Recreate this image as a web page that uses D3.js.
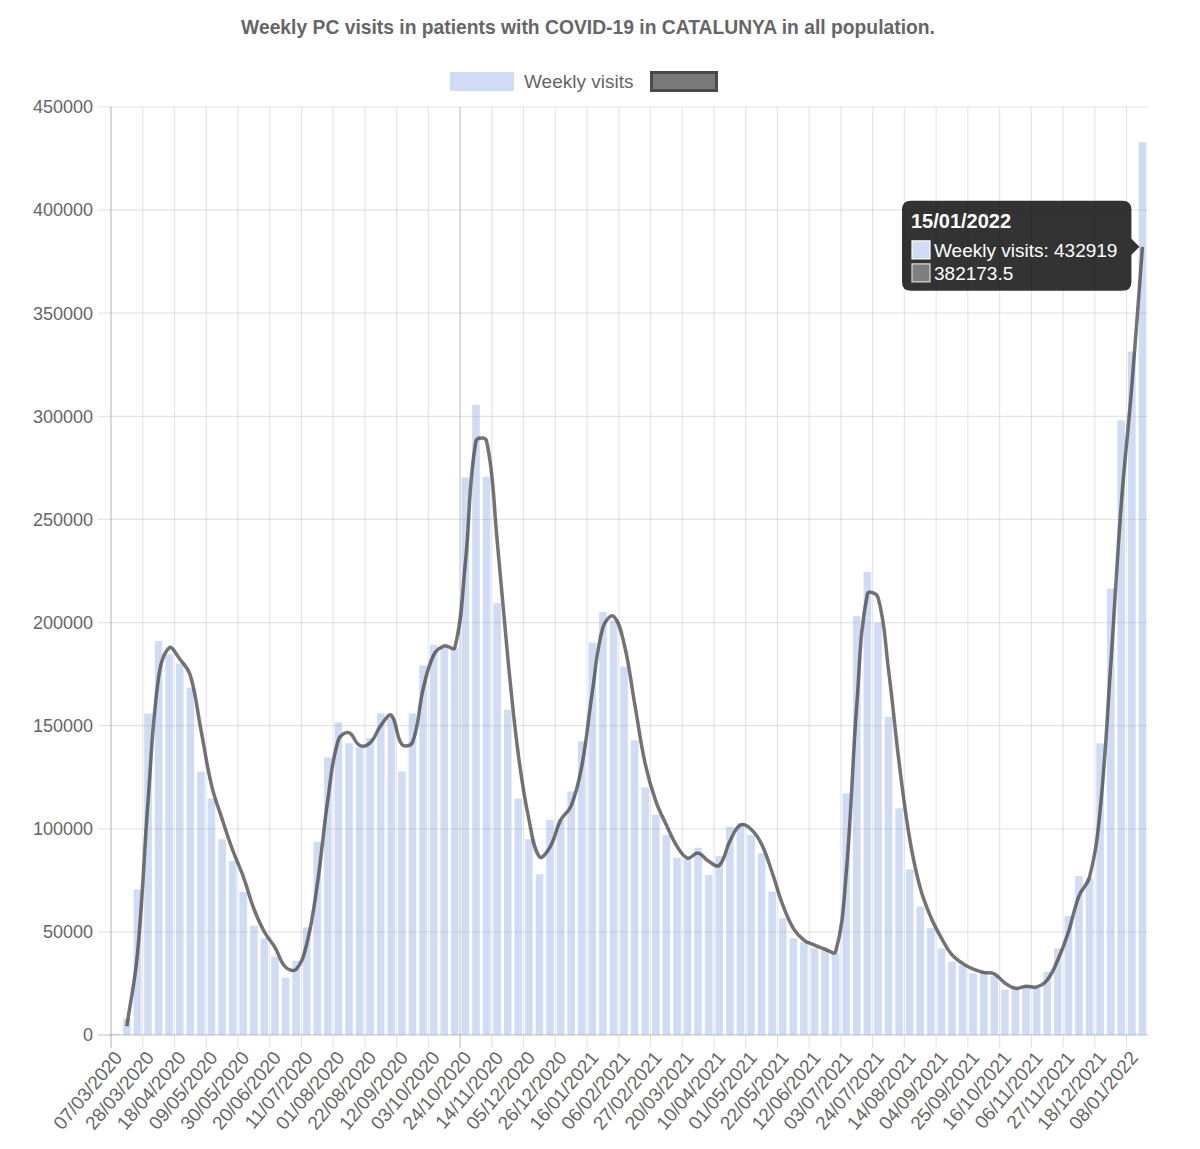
<!DOCTYPE html>
<html><head><meta charset="utf-8">
<script src="https://cdn.jsdelivr.net/npm/d3@7"></script>
<style>html,body{margin:0;background:#fff;} svg{display:block;font-family:"Liberation Sans",Arial,Helvetica,sans-serif;}</style>
</head><body><svg id="chart" width="1200" height="1149"></svg>
<script>
const chartTitle = "Weekly PC visits in patients with COVID-19 in CATALUNYA in all population.";
const seriesName = "Weekly visits";
const weeks = [
"07/03/2020","14/03/2020","21/03/2020","28/03/2020","04/04/2020","11/04/2020","18/04/2020","25/04/2020","02/05/2020","09/05/2020",
"16/05/2020","23/05/2020","30/05/2020","06/06/2020","13/06/2020","20/06/2020","27/06/2020","04/07/2020","11/07/2020","18/07/2020",
"25/07/2020","01/08/2020","08/08/2020","15/08/2020","22/08/2020","29/08/2020","05/09/2020","12/09/2020","19/09/2020","26/09/2020",
"03/10/2020","10/10/2020","17/10/2020","24/10/2020","31/10/2020","07/11/2020","14/11/2020","21/11/2020","28/11/2020","05/12/2020",
"12/12/2020","19/12/2020","26/12/2020","02/01/2021","09/01/2021","16/01/2021","23/01/2021","30/01/2021","06/02/2021","13/02/2021",
"20/02/2021","27/02/2021","06/03/2021","13/03/2021","20/03/2021","27/03/2021","03/04/2021","10/04/2021","17/04/2021","24/04/2021",
"01/05/2021","08/05/2021","15/05/2021","22/05/2021","29/05/2021","05/06/2021","12/06/2021","19/06/2021","26/06/2021","03/07/2021",
"10/07/2021","17/07/2021","24/07/2021","31/07/2021","07/08/2021","14/08/2021","21/08/2021","28/08/2021","04/09/2021","11/09/2021",
"18/09/2021","25/09/2021","02/10/2021","09/10/2021","16/10/2021","23/10/2021","30/10/2021","06/11/2021","13/11/2021","20/11/2021",
"27/11/2021","04/12/2021","11/12/2021","18/12/2021","25/12/2021","01/01/2022","08/01/2022","15/01/2022"];
const weeklyVisits = [
600,8000,70600,155900,191000,184500,180200,168400,127700,114700,
94900,84400,69500,53000,46900,38000,27800,35900,52200,93700,
134600,151600,141500,139400,144000,156000,154000,127800,156000,179200,
189200,188100,187500,270400,305600,270600,209500,157700,114600,94900,
77900,104200,104200,118100,142400,190200,205100,201000,178600,142900,
120100,106700,97000,86000,85600,90800,77600,86900,101000,102600,
97000,88100,69500,56600,46900,45200,42000,41200,39600,117200,
203100,224600,199900,154300,109900,80300,62200,52000,42000,35600,
33900,29900,30700,28600,21800,23400,23900,22600,30700,42000,
57700,77100,76000,141400,216500,298000,331428,432919];
const twoWeekAverage = [
null,4300,39300,113250,173450,187750,182350,174300,148050,121200,
104800,89650,76950,61250,49950,42450,32900,31850,44050,72950,
114150,143100,146550,140450,141700,150000,155000,140900,141900,167600,
184200,188650,187800,228950,288000,288100,240050,183600,136150,104750,
86400,91050,104200,111150,130250,166300,197650,203050,189800,160750,
131500,113400,101850,91500,85800,88200,84200,82250,93950,101800,
99800,92550,78800,63050,51750,46050,43600,41600,40400,78400,
160150,213850,212250,177100,132100,95100,71250,57100,47000,38800,
34750,31900,30300,29650,25200,22600,23650,23250,26650,36350,
49850,67400,76550,108700,178950,257250,314714,382173.5];
const xTickLabels = ["07/03/2020","28/03/2020","18/04/2020","09/05/2020","30/05/2020","20/06/2020","11/07/2020","01/08/2020","22/08/2020",
"12/09/2020","03/10/2020","24/10/2020","14/11/2020","05/12/2020","26/12/2020","16/01/2021","06/02/2021","27/02/2021","20/03/2021",
"10/04/2021","01/05/2021","22/05/2021","12/06/2021","03/07/2021","24/07/2021","14/08/2021","04/09/2021","25/09/2021","16/10/2021",
"06/11/2021","27/11/2021","18/12/2021","08/01/2022"];
const yTicks = [0,50000,100000,150000,200000,250000,300000,350000,400000,450000];
const tooltipIndex = 97;

const L = 111, R = 1147.7, T = 107, B = 1035;
const svg = d3.select("#chart");
const x = d3.scaleBand().domain(weeks).range([L, R]).paddingInner(0).paddingOuter(0);
const y = d3.scaleLinear().domain([0, 450000]).range([B, T]);
const bw = x.bandwidth();
const barColor = "rgba(128,163,224,0.38)";
const textColor = "#666";

// title
svg.append("text").attr("x", 588).attr("y", 34).attr("text-anchor", "middle")
  .attr("font-size", 19.3).attr("font-weight", "bold").attr("fill", textColor).text(chartTitle);

// legend
svg.append("rect").attr("x", 450).attr("y", 72).attr("width", 64).attr("height", 19).attr("fill", barColor);
svg.append("text").attr("x", 524).attr("y", 88).attr("font-size", 19).attr("fill", textColor).text(seriesName);
svg.append("rect").attr("x", 651.5).attr("y", 72.5).attr("width", 65).attr("height", 18)
  .attr("fill", "#7a7a7a").attr("stroke", "#4a4a4a").attr("stroke-width", 3);

// grid
const grid = svg.append("g");
yTicks.forEach(v => {
  grid.append("line").attr("x1", L - 13).attr("x2", R).attr("y1", y(v)).attr("y2", y(v))
    .attr("stroke", v === 0 ? "rgba(0,0,0,0.25)" : "rgba(0,0,0,0.1)").attr("stroke-width", 1.2);
});
xTickLabels.forEach((lab, i) => {
  const gx = x(lab);
  grid.append("line").attr("x1", gx).attr("x2", gx).attr("y1", T).attr("y2", B + 13)
    .attr("stroke", i === 0 ? "rgba(0,0,0,0.25)" : (lab === "24/10/2020" ? "rgba(0,0,0,0.22)" : "rgba(0,0,0,0.1)"))
    .attr("stroke-width", 1.2);
});

// y labels
svg.append("g").selectAll("text").data(yTicks).join("text")
  .attr("x", 93).attr("y", d => y(d)).attr("dy", "0.35em").attr("text-anchor", "end")
  .attr("font-size", 18).attr("fill", textColor).text(d => d);

// x labels
svg.append("g").selectAll("text").data(xTickLabels).join("text")
  .attr("transform", d => `translate(${x(d) + bw / 2 + 2},${B + 19}) rotate(-50)`)
  .attr("dy", "0.35em").attr("text-anchor", "end")
  .attr("font-size", 19).attr("fill", textColor).text(d => d);

// bars
svg.append("g").selectAll("rect").data(weeks).join("rect")
  .attr("x", (d) => x(d) + bw * 0.14).attr("width", bw * 0.72)
  .attr("y", (d, i) => y(weeklyVisits[i])).attr("height", (d, i) => B - y(weeklyVisits[i]))
  .attr("fill", barColor);

// line (Chart.js style spline)
const pts = [];
weeks.forEach((d, i) => { if (twoWeekAverage[i] != null) pts.push({x: x(d) + bw / 2, y: y(twoWeekAverage[i])}); });
function spline(p, t) {
  const cps = p.map((c, i) => {
    const a = p[i - 1] || c, b = p[i + 1] || c;
    const d01 = Math.hypot(c.x - a.x, c.y - a.y), d12 = Math.hypot(b.x - c.x, b.y - c.y);
    let s01 = d01 / (d01 + d12), s12 = d12 / (d01 + d12);
    if (isNaN(s01)) s01 = 0; if (isNaN(s12)) s12 = 0;
    const fa = t * s01, fb = t * s12;
    const cl = v => Math.max(T, Math.min(B, v));
    return {px: c.x - fa * (b.x - a.x), py: cl(c.y - fa * (b.y - a.y)), nx: c.x + fb * (b.x - a.x), ny: cl(c.y + fb * (b.y - a.y))};
  });
  const path = d3.path();
  path.moveTo(p[0].x, p[0].y);
  for (let i = 1; i < p.length; i++) path.bezierCurveTo(cps[i - 1].nx, cps[i - 1].ny, cps[i].px, cps[i].py, p[i].x, p[i].y);
  return path.toString();
}
svg.append("path").attr("d", spline(pts, 0.4)).attr("fill", "none")
  .attr("stroke", "rgba(55,55,55,0.7)").attr("stroke-width", 3.5).attr("stroke-linejoin", "round");

// tooltip
const tipX = x(weeks[tooltipIndex]) + bw / 2 - 3, tipY = y(twoWeekAverage[tooltipIndex]);
const bx0 = 902, bx1 = tipX - 8, by0 = tipY - 46, by1 = tipY + 44, r = 9;
const tp = d3.path();
tp.moveTo(bx0 + r, by0); tp.lineTo(bx1 - r, by0); tp.quadraticCurveTo(bx1, by0, bx1, by0 + r);
tp.lineTo(bx1, tipY - 8); tp.lineTo(tipX, tipY); tp.lineTo(bx1, tipY + 8);
tp.lineTo(bx1, by1 - r); tp.quadraticCurveTo(bx1, by1, bx1 - r, by1);
tp.lineTo(bx0 + r, by1); tp.quadraticCurveTo(bx0, by1, bx0, by1 - r);
tp.lineTo(bx0, by0 + r); tp.quadraticCurveTo(bx0, by0, bx0 + r, by0); tp.closePath();
const tip = svg.append("g");
tip.append("path").attr("d", tp.toString()).attr("fill", "rgba(0,0,0,0.8)");
tip.append("text").attr("x", 911).attr("y", by0 + 27).attr("font-size", 20).attr("font-weight", "bold")
  .attr("fill", "#fff").text(weeks[tooltipIndex]);
tip.append("rect").attr("x", 912).attr("y", by0 + 40).attr("width", 18).attr("height", 18)
  .attr("fill", "#cfdcf2").attr("stroke", "#fff").attr("stroke-width", 1.2);
tip.append("text").attr("x", 934).attr("y", by0 + 56).attr("font-size", 19).attr("fill", "#fff")
  .text(seriesName + ": " + weeklyVisits[tooltipIndex]);
tip.append("rect").attr("x", 912).attr("y", by0 + 63).attr("width", 18).attr("height", 18)
  .attr("fill", "#7f7f7f").attr("stroke", "#ddd").attr("stroke-width", 1.2);
tip.append("text").attr("x", 934).attr("y", by0 + 79).attr("font-size", 19).attr("fill", "#fff")
  .text(twoWeekAverage[tooltipIndex]);
</script></body></html>
